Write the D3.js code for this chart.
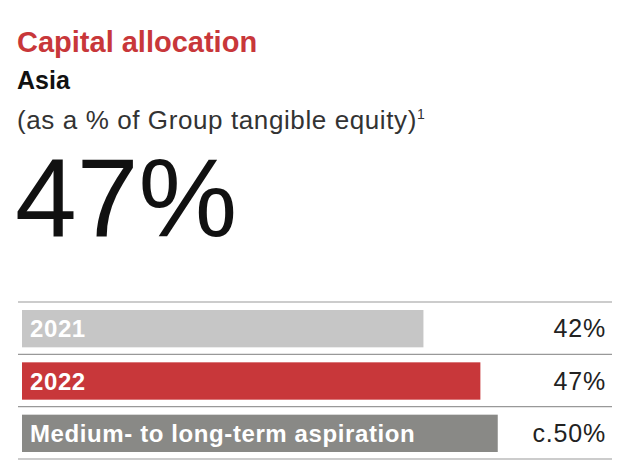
<!DOCTYPE html>
<html><head><meta charset="utf-8">
<script src="https://cdn.jsdelivr.net/npm/d3@7"></script>
<style>body{margin:0;background:#fff}</style></head>
<body><svg id="c" width="640" height="475"></svg>
<script>
const categories = ["2021", "2022", "Medium- to long-term aspiration"];
const values = [41.6, 47.5, 49.3];
const valueLabels = ["42%", "47%", "c.50%"];
const colors = ["#c6c6c6", "#c8373a", "#898986"];

const svg = d3.select("#c");
const font = "Liberation Sans, Arial, sans-serif";
svg.append("text").attr("x",17).attr("y",52).attr("font-family",font).attr("font-weight","bold")
  .attr("font-size",29).attr("fill","#c8373a").text("Capital allocation");
svg.append("text").attr("x",17).attr("y",89).attr("font-family",font).attr("font-weight","bold")
  .attr("font-size",25).attr("fill","#111").text("Asia");
const sub = svg.append("text").attr("x",17).attr("y",129).attr("font-family",font)
  .attr("font-size",26).attr("letter-spacing",0.6).attr("fill","#333").text("(as a % of Group tangible equity)");
sub.append("tspan").attr("font-size",14).attr("dy",-10).text("1");
svg.append("text").attr("x",15).attr("y",236).attr("font-family",font).attr("font-weight",300)
  .attr("font-size",111).attr("fill","#111").text("47%");

const x = d3.scaleLinear().domain([0, 50]).range([22, 22 + 50*9.65]);
const y = d3.scaleBand().domain(categories).range([302, 459]).paddingInner(0).paddingOuter(0);

svg.selectAll("line.sep").data([0,1,2,3]).join("line")
  .attr("x1",18).attr("x2",612)
  .attr("y1",(d)=> d<3 ? y(categories[d]) : y.range()[1])
  .attr("y2",(d)=> d<3 ? y(categories[d]) : y.range()[1])
  .attr("stroke","#999").attr("stroke-width",1.2);

const g = svg.selectAll("g.bar").data(categories).join("g");
g.append("rect").attr("x",x(0)).attr("y",d=>y(d)+8).attr("height",y.bandwidth()-15)
  .attr("width",(d,i)=>x(values[i])-x(0)).attr("fill",(d,i)=>colors[i]);
g.append("text").attr("x",x(0)+8).attr("y",d=>y(d)+y.bandwidth()/2+9)
  .attr("font-family",font).attr("font-weight","bold").attr("font-size",24).attr("letter-spacing",0.6).attr("fill","#fff").text(d=>d);
g.append("text").attr("x",606).attr("y",d=>y(d)+y.bandwidth()/2+9).attr("text-anchor","end")
  .attr("font-family",font).attr("font-size",25).attr("letter-spacing",0.8).attr("fill","#222").text((d,i)=>valueLabels[i]);
</script></body></html>
